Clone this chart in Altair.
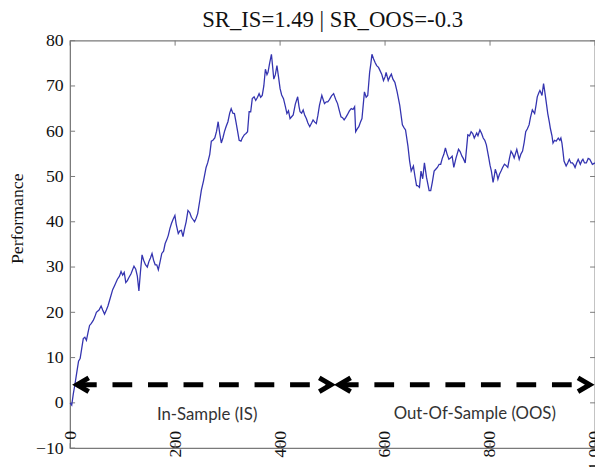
import altair as alt
import pandas as pd

# ---- data ----
x_vals = [0, 3, 6, 9, 13, 16, 19, 22, 25, 28, 31, 34, 37, 40, 44, 47, 50, 55, 59, 62,
          65.5, 69, 72, 76, 81, 85, 90, 94, 97, 100, 103, 106, 109, 112, 116, 121.6, 125, 128, 131, 134,
          137, 140, 143.5, 147, 150, 153, 156, 159, 162, 165, 168, 171, 174.6, 178, 181, 184, 187, 190, 193, 196,
          199.6, 202, 206, 209, 212, 215, 218, 221, 224.5, 228, 231, 234, 237, 240, 243, 247, 250, 254, 259, 262,
          266, 269, 272, 275.6, 279, 282, 285, 288, 291, 294, 297, 300.6, 304, 306.8, 310, 313, 316, 319, 322, 325.5,
          328, 331.7, 335, 338, 341, 344, 347, 350.5, 353.6, 357, 360, 363, 366, 369, 372, 375, 377, 380, 383.5, 386,
          388, 391, 394, 397, 400, 403, 406.5, 410, 413, 416, 419, 422, 425, 429, 433.5, 436, 438, 441, 444, 447,
          450, 453, 456.5, 460, 462.8, 466, 469, 472, 475, 479.5, 482, 484.6, 488, 490.8, 494, 498, 502, 506, 509.5, 513,
          516, 519, 522, 525, 528, 532, 535.6, 539, 542, 544, 547, 550, 553, 556, 560.7, 564, 567, 570.6, 573, 575,
          578, 581, 584, 587.5, 590, 593.6, 597, 600, 602, 606, 609, 612, 615, 618.7, 623, 628, 633, 636, 639, 643.6,
          646.8, 649.8, 654, 657, 660, 662, 665.5, 668.5, 671.7, 675, 679, 684, 687, 690, 693.5, 696.6, 699.7, 703, 706, 709,
          712, 715, 718, 721.6, 724, 727.8, 731, 735, 740, 743, 746.5, 749, 752.7, 757.7, 761, 764, 767, 770, 774.6, 777,
          780.7, 784, 787, 790, 793, 797.6, 800, 802.6, 805.8, 808, 810, 813, 815, 818, 821, 824, 827.5, 830, 833.8, 837,
          840, 843, 846, 851, 855.6, 859, 862, 865, 868, 871, 874.4, 877, 880.6, 885, 888, 890, 893, 895, 897, 899,
          902, 904, 907, 910, 913, 915, 918, 920, 923, 926, 930, 933, 935, 937, 939, 941, 945, 948, 951, 954,
          957, 960, 962, 965, 968, 972, 975, 977, 980, 983.5, 987, 990, 995, 1000]
y_vals = [0, -0.5, 2, 4, 7, 9.2, 9.8, 12, 14.2, 14.5, 13.8, 15.5, 17.1, 17.5, 18.2, 19, 20, 20.5, 21.4, 20.5,
          19.6, 20.5, 21.4, 23, 25, 26, 27.3, 28, 29, 28.2, 28.8, 26.6, 27, 27.7, 28.5, 30.2, 29.5, 28, 24.7, 29,
          32.7, 31.5, 30.5, 30, 31.2, 32, 33, 31.5, 30.5, 30.5, 29.4, 31, 33, 33.5, 35.2, 36, 37, 38.5, 39.6, 40.5,
          41.4, 39.5, 37.4, 38, 38.1, 36.7, 38.5, 40, 42.5, 42, 41, 40.5, 40, 40.8, 41.8, 44.7, 47, 49, 52, 53,
          54.9, 57.8, 58, 58.5, 60, 62.1, 59.5, 57.4, 58.5, 59.9, 61, 62.1, 64, 65, 64, 63.9, 62, 60, 58, 57.8,
          58.5, 59.2, 59.5, 59.9, 64.3, 64.3, 67.2, 67.6, 66.8, 67.5, 68.3, 67.5, 67.9, 70, 73.7, 72.5, 73, 75, 77, 74,
          71.5, 72.5, 74.5, 72, 69.4, 68, 67.2, 65.5, 63.9, 64.5, 62.8, 63.2, 63.6, 66, 67.6, 65.5, 64.3, 64, 64.7, 63.5,
          62.8, 61.8, 61, 61.8, 62.5, 62, 61.7, 63.5, 65.7, 67.9, 67, 66.1, 66.5, 66.5, 67, 67.8, 68.3, 67, 66.1, 64.5,
          63.2, 63, 62.5, 63, 63.6, 64.5, 65, 64.8, 65.4, 59.9, 60.5, 61, 62, 62.8, 68.7, 67.5, 67.9, 73, 75, 77,
          76, 75.2, 74.5, 74.1, 73.5, 72.6, 71.2, 72, 73, 71.2, 72, 72.6, 71.5, 70.8, 68.7, 65.7, 61.4, 60.8, 60.3, 56.7,
          53.4, 51.2, 52.3, 50, 48, 48, 47.6, 51.2, 49.5, 53, 49.8, 46.9, 46.9, 48.7, 51.2, 51.6, 52, 52.7, 52.7, 54,
          54.9, 56.3, 55, 53.8, 54, 54.5, 52, 54, 56, 55.5, 54.5, 54, 53, 59.2, 59, 59.9, 59.5, 58.5, 59.6, 59,
          60.3, 59.5, 58.5, 58, 57, 54.1, 52.5, 51.2, 48.7, 50, 51.6, 50.5, 49.4, 50.5, 51.2, 52, 52.7, 52.5, 52, 54,
          55.6, 55, 54.1, 56, 53.8, 55, 55.6, 57.5, 59.9, 60.5, 61.4, 63, 64.7, 63.9, 66, 67.6, 68.5, 69, 68.5, 67.9,
          70.5, 69, 66.5, 63.9, 62, 60.6, 59, 57.4, 58, 57.8, 58.5, 58, 58.5, 57.4, 55.5, 53.4, 52.3, 53, 53.8, 53,
          53, 52.5, 52, 53, 53.8, 52.7, 53.5, 53.8, 53, 53, 54, 53.8, 52.7, 53]

title_text = "SR_IS=1.49 | SR_OOS=-0.3"
y_title = "Performance"
x_ticks = [0, 200, 400, 600, 800, 1000]
y_ticks = [-10, 0, 10, 20, 30, 40, 50, 60, 70, 80]

arrow_y = [4, 4]
arrow_start = [13, 512]
arrow_end = [497, 990]
region_labels = ["In-Sample (IS)", "Out-Of-Sample (OOS)"]
region_label_x = [261, 771]
region_label_y = [-2.7, -2.5]

# ---- build tables ----
line_df = pd.DataFrame({"x": x_vals, "y": y_vals})
shaft_df = pd.DataFrame({"x": arrow_start, "x2": arrow_end, "y": arrow_y})
left_head_df = pd.DataFrame({"x": arrow_start, "y": arrow_y})
right_head_df = pd.DataFrame({"x": arrow_end, "y": arrow_y})
label_df = pd.DataFrame({"x": region_label_x, "y": region_label_y, "t": region_labels})
xt_df = pd.DataFrame({"x": x_ticks})
yt_df = pd.DataFrame({"y": y_ticks})

W, H = 532, 413
SERIF = "Liberation Serif"
FRAME = "#7a7a7a"
INK = "#111111"

x_scale = alt.Scale(domain=[0, 1000], nice=False, zero=False)
y_scale = alt.Scale(domain=[-10, 80], nice=False, zero=False)

x_axis = alt.Axis(values=x_ticks, title=None, labelAngle=270, labelAlign="right",
                  labelBaseline="middle", labelPadding=-18, ticks=False, domain=False,
                  grid=False, labelFont=SERIF, labelFontSize=18, labelColor=INK,
                  labelFlush=False, labelOverlap=False, labelBound=False)
y_axis = alt.Axis(values=y_ticks, title=y_title, ticks=False, domain=False, grid=False,
                  labelFont=SERIF, labelFontSize=18, labelColor=INK, labelPadding=7,
                  titleFont=SERIF, titleFontSize=18, titleFontWeight="normal",
                  titleColor=INK, titleX=-53, titleY=180, titleAngle=270,
                  titleAlign="center", titleBaseline="middle")

X = alt.X("x:Q", scale=x_scale, axis=x_axis)
Y = alt.Y("y:Q", scale=y_scale, axis=y_axis)

line = alt.Chart(line_df).mark_line(color="#3434b0", strokeWidth=1.3).encode(x=X, y=Y)

shaft = alt.Chart(shaft_df).mark_rule(color="black", strokeWidth=5, strokeDash=[20, 16]).encode(
    x=X, x2="x2:Q", y=Y)

left_head = alt.Chart(left_head_df).mark_point(
    shape="M 1.7 -1 L 0 0 L 1.7 1", filled=False, size=196, strokeWidth=5,
    color="black", opacity=1).encode(x=X, y=Y)
right_head = alt.Chart(right_head_df).mark_point(
    shape="M -1.7 -1 L 0 0 L -1.7 1", filled=False, size=196, strokeWidth=5,
    color="black", opacity=1).encode(x=X, y=Y)

labels = alt.Chart(label_df).mark_text(font="Lato", fontSize=17, color="#333333",
                                       align="center", baseline="middle").encode(
    x=X, y=Y, text="t:N")

TL = 5
tick_style = dict(color=FRAME, strokeWidth=1)
left_ticks = alt.Chart(yt_df).mark_rule(**tick_style).encode(
    x=alt.value(0), x2=alt.value(TL), y=Y)
right_ticks = alt.Chart(yt_df).mark_rule(**tick_style).encode(
    x=alt.value(W), x2=alt.value(W - TL), y=Y)
top_ticks = alt.Chart(xt_df).mark_rule(**tick_style).encode(
    y=alt.value(0), y2=alt.value(TL), x=X)
bottom_ticks = alt.Chart(xt_df).mark_rule(**tick_style).encode(
    y=alt.value(H), y2=alt.value(H - TL), x=X)

chart = alt.layer(
    left_ticks, right_ticks, top_ticks, bottom_ticks,
    line, shaft, left_head, right_head, labels
).properties(
    width=W, height=H,
    title=alt.TitleParams(title_text, font=SERIF, fontSize=23, fontWeight="normal",
                          color=INK, offset=0, anchor="middle"),
    autosize=alt.AutoSizeParams(type="none"),
    padding={"left": 63, "top": 30, "right": 0, "bottom": 16},
    background="white",
).configure_view(stroke=FRAME, strokeWidth=1.3)

chart.save("out.html", embed_options={"renderer": "svg", "actions": False})
